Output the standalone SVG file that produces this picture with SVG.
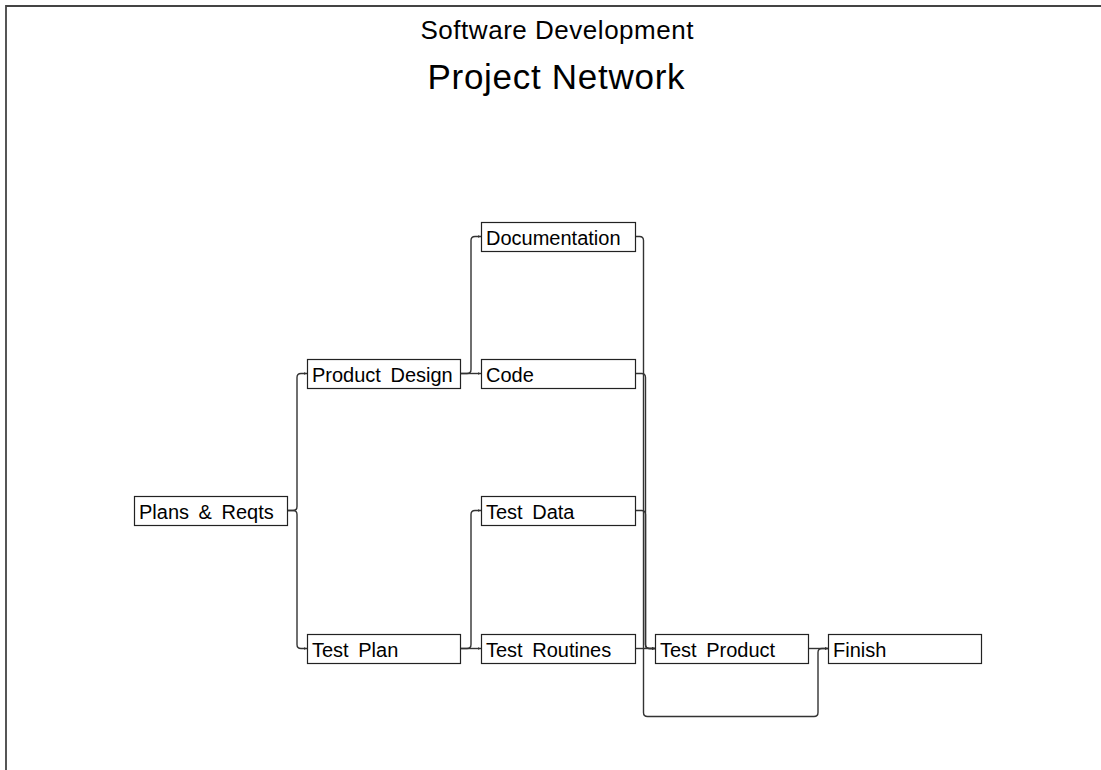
<svg xmlns="http://www.w3.org/2000/svg" width="1101" height="770" viewBox="0 0 1101 770">
<defs>
<marker id="arr" markerWidth="4" markerHeight="4" refX="3.5" refY="1.5" orient="auto" markerUnits="userSpaceOnUse">
<path d="M0,0 L3.5,1.5 L0,3 Z" fill="#333"/>
</marker>
<style>
.box{fill:#fff;stroke:#222;stroke-width:1.2}
.lbl{font-family:"Liberation Sans",Arial,sans-serif;font-size:20px;fill:#000;word-spacing:4px}
.ttl{font-family:"Liberation Sans",Arial,sans-serif;fill:#000;text-anchor:middle}
.con{fill:none;stroke:#333;stroke-width:1.4;marker-end:url(#arr)}
</style>
</defs>
<rect width="1101" height="770" fill="#fff"/>
<path d="M6,770 V6 H1101" fill="none" stroke="#444" stroke-width="1.8"/>
<text class="ttl" x="557" y="39" font-size="26" textLength="273" lengthAdjust="spacing">Software Development</text>
<text class="ttl" x="556" y="89" font-size="35" textLength="257" lengthAdjust="spacing">Project Network</text>
<g id="connectors">
<path class="con" d="M287,510.5 H293 Q297,510.5 297,506.5 V377.5 Q297,373.5 301,373.5 H307"/>
<path class="con" d="M287,510.5 H293 Q297,510.5 297,514.5 V644.5 Q297,648.5 301,648.5 H307"/>
<path class="con" d="M460,373.5 H467 Q471,373.5 471,369.5 V240.5 Q471,236.5 475,236.5 H481"/>
<path class="con" d="M460,373.5 H481"/>
<path class="con" d="M460,648.5 H467 Q471,648.5 471,644.5 V514.5 Q471,510.5 475,510.5 H481"/>
<path class="con" d="M460,648.5 H481"/>
<path class="con" d="M635,236.5 H639.5 Q643.5,236.5 643.5,240.5 V712.5 Q643.5,716.5 647.5,716.5 H814 Q818,716.5 818,712.5 V652.5 Q818,648.5 822,648.5 H828"/>
<path class="con" d="M635,373.5 H641.5 Q645.5,373.5 645.5,377.5 V644.5 Q645.5,648.5 649.5,648.5 H655"/>
<path class="con" d="M635,510.5 H641.5 Q645.5,510.5 645.5,514.5 V644.5 Q645.5,648.5 649.5,648.5 H655"/>
<path class="con" d="M635,648.5 H655"/>
<path class="con" d="M808,648.5 H828"/>
</g>
<g id="plans"><rect class="box" x="134.5" y="496.5" width="153" height="29"/><text class="lbl" x="139" y="519">Plans &amp; Reqts</text></g>
<g id="product-design"><rect class="box" x="307.5" y="359.5" width="153" height="29"/><text class="lbl" x="312" y="382">Product Design</text></g>
<g id="test-plan"><rect class="box" x="307.5" y="634.5" width="153" height="29"/><text class="lbl" x="312" y="657">Test Plan</text></g>
<g id="documentation"><rect class="box" x="481.5" y="222.5" width="154" height="29"/><text class="lbl" x="486" y="245">Documentation</text></g>
<g id="code"><rect class="box" x="481.5" y="359.5" width="154" height="29"/><text class="lbl" x="486" y="382">Code</text></g>
<g id="test-data"><rect class="box" x="481.5" y="496.5" width="154" height="29"/><text class="lbl" x="486" y="519">Test Data</text></g>
<g id="test-routines"><rect class="box" x="481.5" y="634.5" width="154" height="29"/><text class="lbl" x="486" y="657">Test Routines</text></g>
<g id="test-product"><rect class="box" x="655.5" y="634.5" width="153" height="29"/><text class="lbl" x="660" y="657">Test Product</text></g>
<g id="finish"><rect class="box" x="828.5" y="634.5" width="153" height="29"/><text class="lbl" x="833" y="657">Finish</text></g>
</svg>
